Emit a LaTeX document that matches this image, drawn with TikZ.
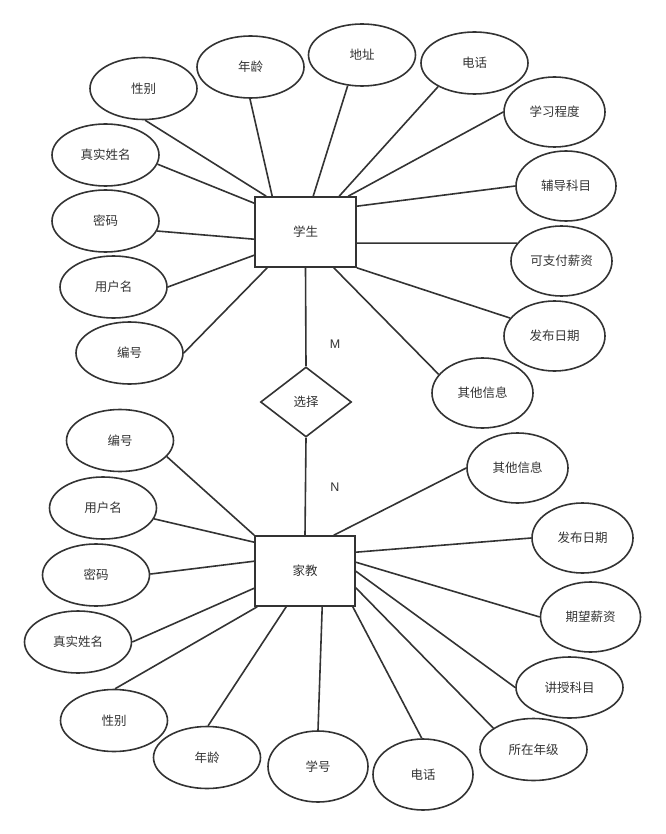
\documentclass[tikz,border=0pt]{standalone}
\usepackage{fontspec}
\setmainfont{Liberation Sans}
\newfontfamily\cjk{Noto Sans CJK SC}
\usetikzlibrary{shapes.geometric}
\definecolor{ink}{HTML}{333333}
\begin{document}
\begin{tikzpicture}[x=1pt,y=-1pt,
  every node/.style={text=ink, font=\cjk\fontsize{12.5}{15}\selectfont},
  attr/.style={ellipse, draw=ink, line width=1.6pt, inner sep=0pt},
  wide/.style={attr, minimum width=107pt, minimum height=62pt},
  tall/.style={attr, minimum width=101pt, minimum height=70pt},
  entity/.style={rectangle, draw=ink, line width=1.6pt, inner sep=0pt,
                 minimum width=101pt, minimum height=70pt},
  rel/.style={diamond, draw=ink, line width=1.6pt, inner sep=0pt,
              minimum width=91pt, minimum height=70pt},
  link/.style={draw=ink, line width=1.6pt},
  card/.style={font=\fontsize{12.5}{15}\selectfont}
]
\useasboundingbox (0,0) rectangle (665,834);

% entities and relationship
\node[entity] (S) at (305.5,232) {学生};
\node[entity, minimum width=100pt] (T) at (305,571) {家教};
\node[rel] (D) at (306,402) {选择};
\node[card] (m) at (335,344) {M};
\node[card] (n) at (335,487) {N};

\draw[link] (S.south) -- (D.north);
\draw[link] (D.south) -- (T.north);

% student attributes
\node[wide] (sa1)  at (143.5,88.5) {性别};
\node[wide] (sa2)  at (250.5,67)   {年龄};
\node[wide] (sa3)  at (362,55)     {地址};
\node[wide] (sa4)  at (474.5,63)   {电话};
\node[tall] (sa5)  at (554.5,112)  {学习程度};
\node[tall, minimum width=100pt] (sa6) at (566,186) {辅导科目};
\node[tall] (sa7)  at (561.5,261)  {可支付薪资};
\node[tall] (sa8)  at (554.5,336)  {发布日期};
\node[tall] (sa9)  at (482.5,393)  {其他信息};
\node[wide] (sa10) at (105.5,155)  {真实姓名};
\node[wide] (sa11) at (105.5,221)  {密码};
\node[wide] (sa12) at (113.5,287)  {用户名};
\node[wide] (sa13) at (129.5,353)  {编号};

\draw[link] (sa1.-87)   -- ([xshift=12pt]S.north west);
\draw[link] (sa2.-91)   -- ([xshift=18pt]S.north west);
\draw[link] (sa3.-115)  -- ([xshift=59pt]S.north west);
\draw[link] (sa4.-147)  -- ([xshift=85pt]S.north west);
\draw[link] (sa5.180)   -- ([xshift=94pt]S.north west);
\draw[link] (sa6.180)   -- ([yshift=-10pt]S.north east);
\draw[link] (sa7.158)   -- ([yshift=-47pt]S.north east);
\draw[link] (sa8.158)   -- (S.south east);
\draw[link] (sa9.157)   -- ([xshift=-23pt]S.south east);
\draw[link] (sa10.-10)  -- ([yshift=-7pt]S.north west);
\draw[link] (sa11.-11)  -- ([yshift=-43pt]S.north west);
\draw[link] (sa12.0)    -- ([yshift=-59pt]S.north west);
\draw[link] (sa13.0)    -- ([xshift=13pt]S.south west);

% tutor attributes
\node[wide] (ta1)  at (120,440.5)   {编号};
\node[wide] (ta2)  at (103,508)     {用户名};
\node[wide] (ta3)  at (96,575)      {密码};
\node[wide] (ta4)  at (78,642)      {真实姓名};
\node[wide] (ta5)  at (114,720.5)   {性别};
\node[wide] (ta6)  at (207,757.5)   {年龄};
\node[attr, minimum width=100pt, minimum height=71pt] (ta7) at (318,766.5) {学号};
\node[attr, minimum width=100pt, minimum height=71pt] (ta8) at (423,774.5) {电话};
\node[wide] (ta9)  at (533.5,749.5) {所在年级};
\node[wide, minimum height=61pt] (ta10) at (569.5,687.5) {讲授科目};
\node[tall, minimum width=100pt] (ta11) at (590.5,617) {期望薪资};
\node[tall] (ta12) at (582.5,538)   {发布日期};
\node[tall] (ta13) at (517.5,468)   {其他信息};

\draw[link] (ta1.-19)  -- (T.north west);
\draw[link] (ta2.-12)  -- ([yshift=-7pt]T.north west);
\draw[link] (ta3.1)    -- ([yshift=-26pt]T.north west);
\draw[link] (ta4.0)    -- ([yshift=-53pt]T.north west);
\draw[link] (ta5.88)   -- ([xshift=3pt]T.south west);
\draw[link] (ta6.88)   -- ([xshift=32pt]T.south west);
\draw[link] (ta7.90)   -- ([xshift=68pt]T.south west);
\draw[link] (ta8.92)   -- ([xshift=-3pt]T.south east);
\draw[link] (ta9.152)  -- ([yshift=19pt]T.south east);
\draw[link] (ta10.180) -- ([yshift=-36pt]T.north east);
\draw[link] (ta11.180) -- ([yshift=-27pt]T.north east);
\draw[link] (ta12.180) -- ([yshift=-17pt]T.north east);
\draw[link] (ta13.180) -- ([xshift=-22pt]T.north east);
\end{tikzpicture}
\end{document}
